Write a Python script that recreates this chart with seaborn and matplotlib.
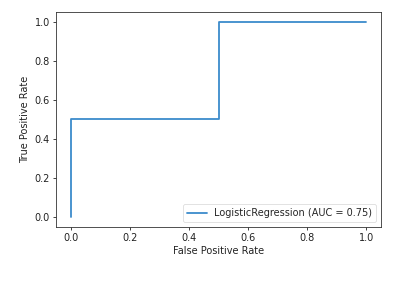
import matplotlib
matplotlib.use("Agg")
import matplotlib.pyplot as plt
import seaborn as sns
import pandas as pd

fpr = [0.0, 0.0, 0.5, 0.5, 1.0]
tpr = [0.0, 0.5, 0.5, 1.0, 1.0]
label = "LogisticRegression (AUC = 0.75)"

sns.set_style("ticks")
plt.rcParams['font.family'] = ['DejaVu Sans']
fs = 7

df = pd.DataFrame({"fpr": fpr, "tpr": tpr, "model": [label] * len(fpr)})

fig = plt.figure(figsize=(4.12, 3.07), dpi=100)
ax = fig.add_axes([0.136, 0.261, 0.789, 0.700])
sns.lineplot(data=df, x="fpr", y="tpr", hue="model", sort=False, estimator=None,
             palette=["#3b8bcb"], linewidth=1.3, ax=ax)
ax.set_xlabel("False Positive Rate", fontsize=fs, color="#222222", labelpad=2)
ax.set_ylabel("True Positive Rate", fontsize=fs, color="#222222", labelpad=3)
ax.set_xticks([0.0, 0.2, 0.4, 0.6, 0.8, 1.0])
ax.set_yticks([0.0, 0.2, 0.4, 0.6, 0.8, 1.0])
ax.set_xlim(-0.05, 1.05)
ax.set_ylim(-0.05, 1.05)
ax.tick_params(labelsize=fs, length=2.3, width=0.6, pad=2, colors="#222222")
for s in ax.spines.values():
    s.set_visible(True)
    s.set_linewidth(0.6)
    s.set_color("#333333")
leg = ax.legend(loc="lower right", fontsize=fs, frameon=True, handlelength=2.0)
leg.get_frame().set_linewidth(0.5)
fig.savefig("out.png", dpi=100, facecolor="white")
